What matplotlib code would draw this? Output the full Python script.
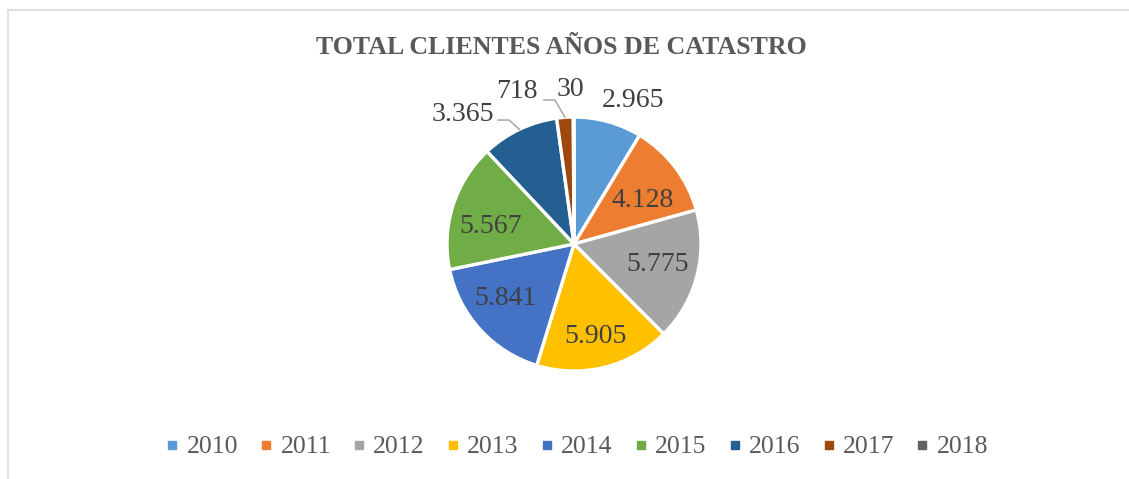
import numpy as np
import matplotlib
matplotlib.use("Agg")
import matplotlib.pyplot as plt
from matplotlib.lines import Line2D

plt.rcParams['font.family'] = ['Liberation Serif', 'DejaVu Serif']

years = ['2010', '2011', '2012', '2013', '2014', '2015', '2016', '2017', '2018']
clientes = [2965, 4128, 5775, 5905, 5841, 5567, 3365, 718, 30]
etiquetas = ['2.965', '4.128', '5.775', '5.905', '5.841', '5.567', '3.365', '718', '30']
colores = ['#5B9BD5', '#ED7D31', '#A5A5A5', '#FFC000', '#4472C4',
           '#70AD47', '#255E91', '#9E480E', '#636363']

W, H = 1129, 479
fig = plt.figure(figsize=(W / 100, H / 100), dpi=100)

# borde del area del grafico (solo izquierda y arriba visibles)
fig.add_artist(Line2D([7.5 / W, 7.5 / W], [0, 1 - 10 / H], color='#D9D9D9', lw=1.2,
                      transform=fig.transFigure))
fig.add_artist(Line2D([7.5 / W, 1], [1 - 10 / H, 1 - 10 / H], color='#D9D9D9', lw=1.2,
                      transform=fig.transFigure))

# pie: centro (574,244) px, radio 127 px
cx, cy, r = 574, 244, 127
ax = fig.add_axes([(cx - r) / W, (H - cy - r) / H, 2 * r / W, 2 * r / H])
ax.pie(clientes, colors=colores, startangle=90, counterclock=False,
       wedgeprops=dict(edgecolor='white', linewidth=2.4))
ax.set_xlim(-1, 1)
ax.set_ylim(-1, 1)
ax.set_aspect('equal')
ax.axis('off')

total = sum(clientes)
acum = np.cumsum([0] + clientes)
medio = [(acum[i] + clientes[i] / 2) / total * 2 * np.pi for i in range(len(clientes))]

txt = '#404040'
fs = 20
# etiquetas dentro: radio y desplazamiento angular aproximado (estilo Excel)
dentro = {1: (0.64, 5), 2: (0.68, -1), 3: (0.75, 1), 4: (0.69, 4), 5: (0.67, -6)}
for i, (rr, da) in dentro.items():
    a = medio[i] + np.radians(da)
    ax.text(rr * np.sin(a), rr * np.cos(a), etiquetas[i], ha='center', va='center',
            fontsize=fs, color=txt)

# etiquetas fuera
ax.text(0.465, 1.126, etiquetas[0], ha='center', va='center', fontsize=fs, color=txt)
ax.text(-0.63, 1.016, etiquetas[6], ha='right', va='center', fontsize=fs, color=txt)
ax.text(-0.283, 1.197, etiquetas[7], ha='right', va='center', fontsize=fs, color=txt)
ax.text(-0.134, 1.213, etiquetas[8], ha='left', va='center', fontsize=fs, color=txt)

# lineas guia
for i, (x0, y0) in {6: (-0.598, 0.976), 7: (-0.236, 1.134)}.items():
    ex, ey = np.sin(medio[i]), np.cos(medio[i])
    ax.plot([x0, x0 + 0.086, ex], [y0, y0, ey], color='#A6A6A6', lw=1.1, clip_on=False)

fig.text(561 / W, 1 - 47 / H, 'TOTAL CLIENTES AÑOS DE CATASTRO', ha='center', va='center',
         fontsize=18.6, fontweight='bold', color='#595959')

handles = [Line2D([], [], marker='s', linestyle='none', markersize=6, color=c) for c in colores]
fig.legend(handles, years, ncol=9, loc='center', bbox_to_anchor=(577 / W, 1 - 447 / H),
           frameon=False, fontsize=18.5, labelcolor='#595959', handlelength=0.5,
           handletextpad=0.3, columnspacing=0.85, borderpad=0)

fig.savefig('out.png', dpi=100, facecolor='white')
